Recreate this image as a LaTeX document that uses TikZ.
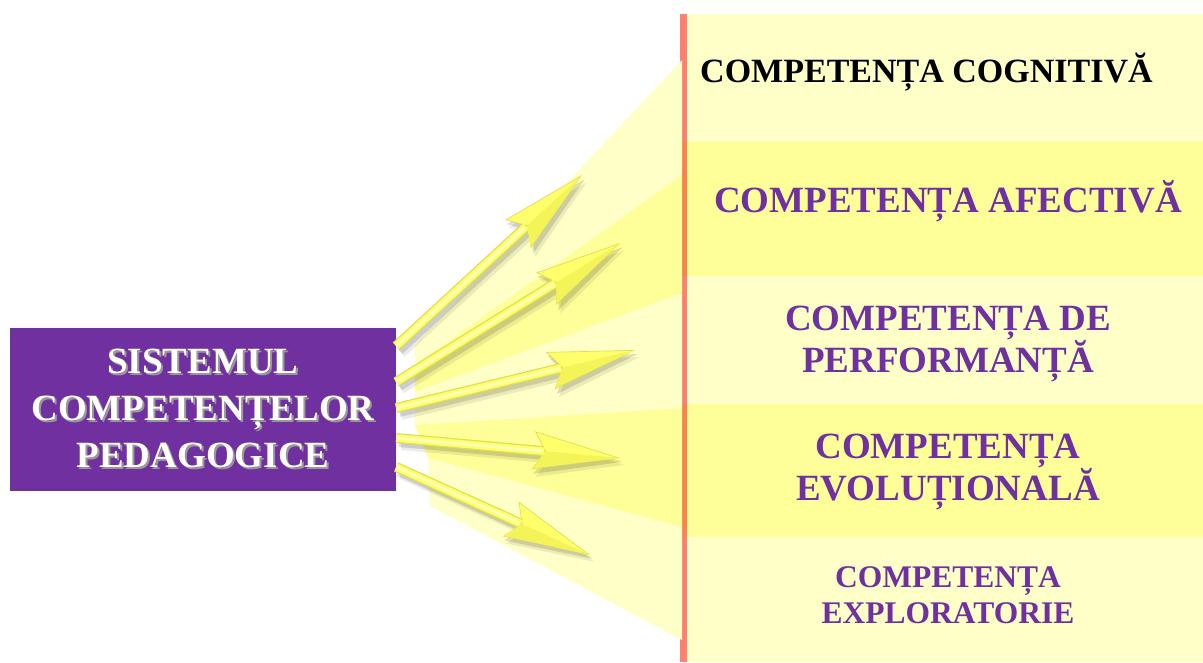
\documentclass[tikz,border=0pt]{standalone}
\usepackage{fontspec}
\setmainfont{Liberation Serif}
\usetikzlibrary{arrows.meta, calc}

\definecolor{boxpurple}{RGB}{112,48,160}
\definecolor{lightband}{RGB}{255,255,200}
\definecolor{deepband}{RGB}{255,255,153}
\definecolor{railpale}{RGB}{255,128,112}
\definecolor{raildeep}{RGB}{255,128,80}
\definecolor{rayfill}{RGB}{255,255,108}
\definecolor{rayfacet}{RGB}{244,244,88}
\definecolor{rayedge}{RGB}{222,222,84}
\definecolor{rayglint}{RGB}{255,255,190}

% white letters with a soft dark shadow
\newcommand\embossed[1]{\rlap{\kern2pt\raisebox{-2pt}{\color{black!40}#1}}#1}

\begin{document}
\begin{tikzpicture}[x=1pt, y=-1pt,
  ray/.style={draw=rayedge, line width=10pt,
    -{Stealth[length=87pt, width=38pt, inset=12pt, line width=0.7pt, fill=rayfill]}},
  ray body/.style={draw=rayfill, line width=7.5pt, shorten >=76pt},
  ray glint/.style={draw=rayglint, line width=2.5pt, shorten >=78pt},
  ray shade/.style={draw=black, line width=10pt,
    -{Stealth[length=87pt, width=38pt, inset=12pt]}},
  tag/.style={font=\bfseries\fontsize{37}{42}\selectfont, text=boxpurple,
    inner sep=0pt, align=center}
]
  \fill[white] (0,0) rectangle (1203,662);
  \useasboundingbox (0,0) rectangle (1203,662);

  % bands on the right and the rail beside them
  \foreach \a/\b/\c/\r in {14/142/lightband/railpale, 142/276/deepband/raildeep,
      276/404/lightband/railpale, 404/537/deepband/raildeep, 537/662/lightband/railpale} {
    \fill[\c] (687,\a) rectangle (1203,\b);
    \fill[\r] (680,\a) rectangle (687,\b);
  }

  % fan of light between box and rail
  \fill[lightband] (682,60) -- (682,175) -- (415,365) -- (415,345) -- cycle;
  \fill[lightband] (682,293) -- (682,408) -- (415,425) -- (415,392) -- cycle;
  \fill[lightband] (682,527) -- (682,640) -- (430,506) -- (428,458) -- cycle;
  \fill[deepband] (682,175) -- (682,293) -- (415,392) -- (415,365) -- cycle;
  \fill[deepband] (682,408) -- (682,527) -- (428,458) -- (415,425) -- cycle;

  % main box
  \node[fill=boxpurple, minimum width=386pt, minimum height=163pt, inner sep=0pt,
    text=white, align=center, font=\bfseries\fontsize{37}{47}\selectfont]
    (sys) at (203,409.5)
    {\embossed{SISTEMUL}\\\embossed{COMPETENȚELOR}\\\embossed{PEDAGOGICE}};

  % arrow tips
  \coordinate (t1) at (582,175);
  \coordinate (t2) at (620,243);
  \coordinate (t3) at (635,350);
  \coordinate (t4) at (620,458);
  \coordinate (t5) at (590,555);

  % soft shadows first, then the arrows
  \foreach \sx/\sy/\op in {3/4/0.13, 5/7/0.08} {
    \begin{scope}[transparency group, opacity=\op]
      \foreach \dy/\tip in {63.5/t1, 27.5/t2, 1.5/t3, -28.5/t4, -57.5/t5}
        \draw[ray shade] ([shift={(\sx,\sy)}, yshift=\dy pt]sys.east)
          -- ([shift={(\sx,\sy)}]\tip);
    \end{scope}
  }
  \foreach \dy/\tip in {63.5/t1, 27.5/t2, 1.5/t3, -28.5/t4, -57.5/t5} {
    \coordinate (s) at ([yshift=\dy pt]sys.east);
    \draw[ray] (s) -- (\tip);
    \draw[ray body] (s) -- (\tip);
    \draw[ray glint] (s) -- (\tip);
    % darker lower facet of the head
    \fill[rayfacet] (\tip) -- ($(\tip)!75pt!(s)$)
      -- ($(\tip)!86pt!(s)!18pt!-90:(\tip)$) -- cycle;
  }

  % competences
  \node[tag, text=black, anchor=base west, font=\bfseries\fontsize{34}{40}\selectfont]
    (cog) at (700,82) {COMPETENȚA COGNITIVĂ};
  \node[tag, anchor=base] (afe) at (948,212) {COMPETENȚA AFECTIVĂ};
  \node[tag, anchor=base] (perf) at (948,372) {COMPETENȚA DE\\PERFORMANȚĂ};
  \node[tag, anchor=base] (evo) at (948,500) {COMPETENȚA\\EVOLUȚIONALĂ};
  \node[tag, anchor=base, font=\bfseries\fontsize{31.5}{36}\selectfont]
    (expl) at (948,623) {COMPETENȚA\\EXPLORATORIE};
\end{tikzpicture}
\end{document}
